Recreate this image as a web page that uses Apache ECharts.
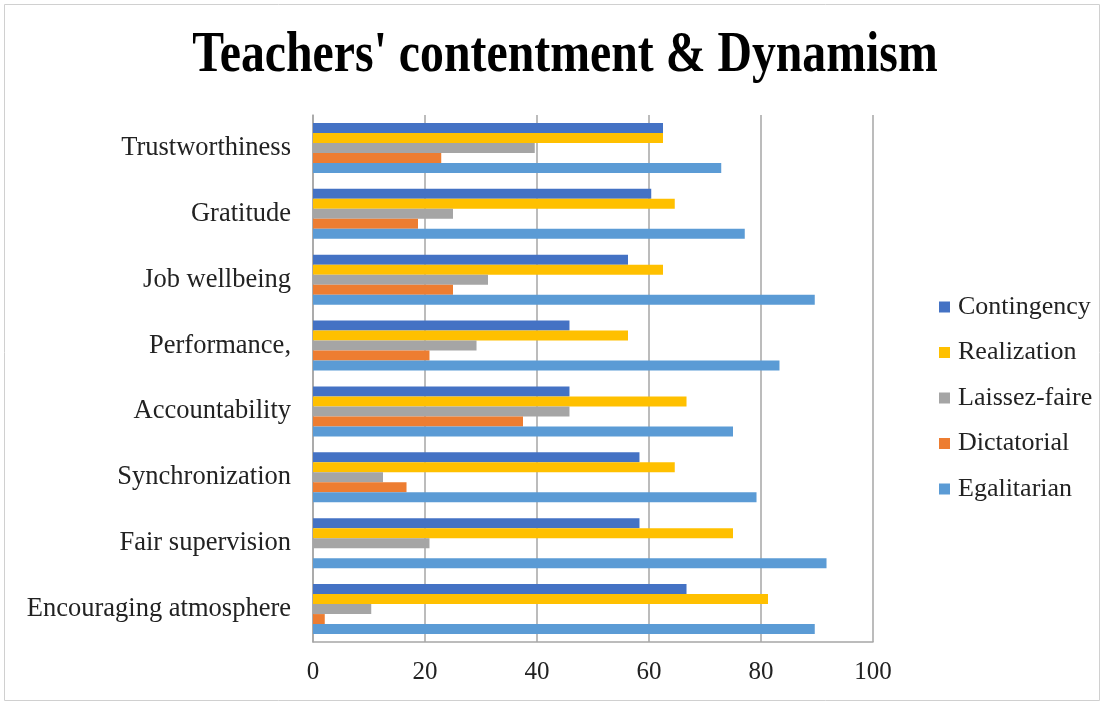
<!DOCTYPE html>
<html>
<head>
<meta charset="utf-8">
<script src="https://cdn.jsdelivr.net/npm/echarts@6/dist/echarts.min.js"></script>
<style>
html,body{margin:0;padding:0;background:#fff;}
#chart{width:1105px;height:706px;}
</style>
</head>
<body>
<div id="chart"></div>
<script>
const categories = ['Encouraging atmosphere','Fair supervision','Synchronization','Accountability','Performance,','Job wellbeing','Gratitude','Trustworthiness'];
const contingency = [66.7, 58.3, 58.3, 45.8, 45.8, 56.25, 60.4, 62.5];
const realization = [81.25, 75.0, 64.6, 66.7, 56.25, 62.5, 64.6, 62.5];
const laissezFaire = [10.4, 20.8, 12.5, 45.8, 29.2, 31.25, 25.0, 39.6];
const dictatorial = [2.1, 0, 16.7, 37.5, 20.8, 25.0, 18.75, 22.9];
const egalitarian = [89.6, 91.7, 79.2, 75.0, 83.3, 89.6, 77.1, 72.9];
const xTicks = [0, 20, 40, 60, 80, 100];
const titleText = "Teachers' contentment & Dynamism";

const font = 'Liberation Serif, Times New Roman, serif';
const chart = echarts.init(document.getElementById('chart'));
function s(name, data, color) {
  return { name, type: 'bar', data, itemStyle: { color }, barGap: '0%', barCategoryGap: '24%', animation: false };
}
chart.setOption({
  animation: false,
  graphic: [
    { type: 'rect', shape: { x: 4.5, y: 4.5, width: 1095, height: 696 }, style: { fill: 'none', stroke: '#d0d0d0', lineWidth: 1 }, silent: true },
    { type: 'text', x: 565, y: 56, scaleX: 0.81, scaleY: 0.97,
      style: { text: titleText, fontFamily: font, fontSize: 59, fontWeight: 'bold', fill: '#000', align: 'center', verticalAlign: 'middle' } }
  ],
  legend: {
    orient: 'vertical', left: 934, top: 289, itemGap: 19.5, itemWidth: 11, itemHeight: 11, icon: 'rect',
    data: ['Contingency','Realization','Laissez-faire','Dictatorial','Egalitarian'],
    textStyle: { fontFamily: font, fontSize: 26, color: '#222', padding: [0, 0, 0, 3] }
  },
  grid: { left: 313, right: 232, top: 115, bottom: 64, containLabel: false },
  xAxis: {
    type: 'value', min: xTicks[0], max: xTicks[xTicks.length - 1], interval: 20,
    axisLine: { show: true, lineStyle: { color: '#a6a6a6', width: 1.5 } },
    axisTick: { show: false },
    splitLine: { show: true, lineStyle: { color: '#a6a6a6', width: 1.5 } },
    axisLabel: { fontFamily: font, fontSize: 25, color: '#222', margin: 18 }
  },
  yAxis: {
    type: 'category', data: categories,
    axisLine: { show: true, lineStyle: { color: '#a6a6a6', width: 1.5 } },
    axisTick: { show: false },
    axisLabel: { fontFamily: font, fontSize: 26.5, color: '#222', margin: 22 }
  },
  series: [
    s('Contingency', contingency, '#4472C4'),
    s('Realization', realization, '#FFC000'),
    s('Laissez-faire', laissezFaire, '#A5A5A5'),
    s('Dictatorial', dictatorial, '#ED7D31'),
    s('Egalitarian', egalitarian, '#5B9BD5')
  ]
});
</script>
</body>
</html>
